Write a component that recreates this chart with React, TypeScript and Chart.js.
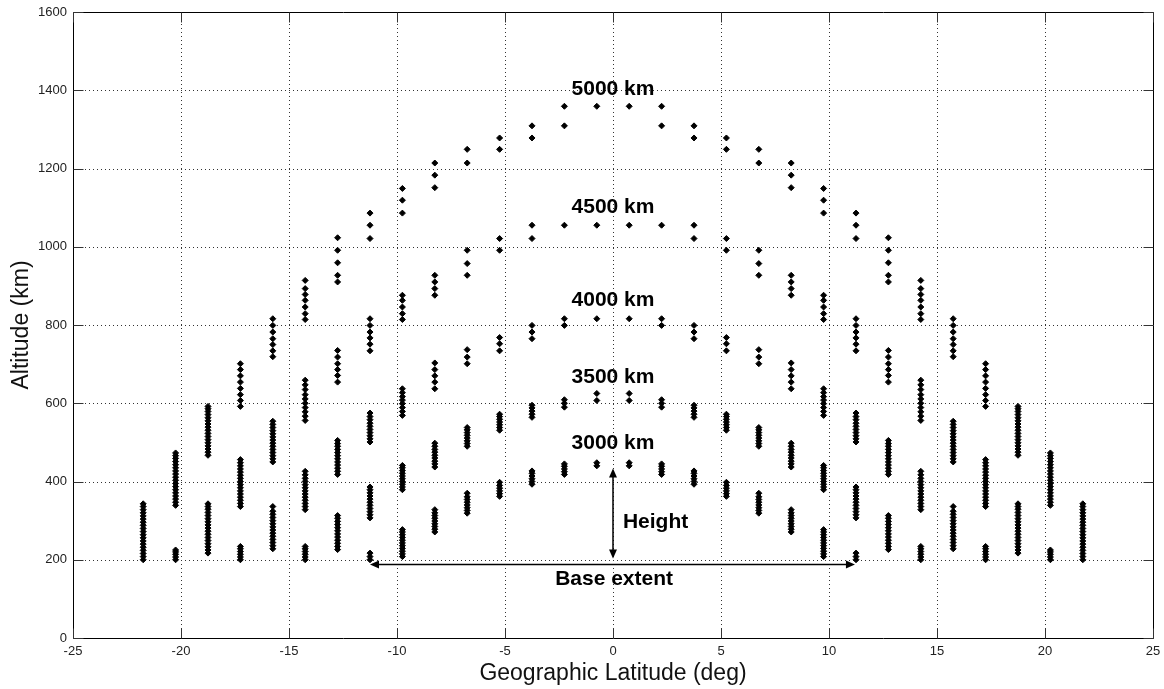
import React, { useEffect, useRef } from "react";
import { Chart, registerables } from "chart.js";

Chart.register(...registerables);

// ---- Axis ticks ----
const xTicks = [-25, -20, -15, -10, -5, 0, 5, 10, 15, 20, 25];
const yTicks = [0, 200, 400, 600, 800, 1000, 1200, 1400, 1600];

// ---- Column latitudes (deg), symmetric pairs ±offset ----
const columnOffsets = [0.75, 2.25, 3.75, 5.25, 6.75, 8.25, 9.75, 11.25, 12.75, 14.25, 15.75, 17.25, 18.75, 20.25, 21.75];

// ---- Altitudes (km) of the dots in each column pair ----
const alt0_75 = [440, 448, 607, 625, 816, 1055, 1359];
const alt2_25 = [418, 425, 432, 439, 445, 590, 600, 609, 799, 816, 1055, 1309, 1359];
const alt3_75 = [393, 400, 407, 414, 421, 427, 564, 572, 580, 588, 595, 765, 782, 799, 1021, 1055, 1278, 1309];
const alt5_25 = [362, 369, 376, 383, 390, 398, 531, 538, 545, 552, 559, 566, 572, 734, 752, 768, 991, 1021, 1249, 1278];
const alt6_75 = [319, 326, 333, 340, 347, 354, 361, 370, 490, 497, 504, 511, 518, 525, 532, 538, 701, 718, 737, 927, 957, 991, 1214, 1249];
const alt8_25 = [271, 278, 285, 292, 299, 306, 313, 320, 328, 437, 445, 452, 460, 467, 475, 482, 490, 498, 637, 654, 670, 686, 703, 876, 893, 910, 927, 1151, 1183, 1214];
const alt9_75 = [208, 215, 222, 229, 236, 243, 250, 257, 264, 271, 277, 379, 386, 393, 400, 407, 414, 421, 428, 435, 441, 569, 579, 589, 599, 608, 617, 627, 637, 814, 829, 846, 863, 876, 1086, 1119, 1149];
const alt11_25 = [200, 208, 217, 307, 315, 323, 331, 339, 347, 355, 363, 371, 379, 386, 501, 509, 517, 525, 533, 541, 549, 558, 566, 575, 734, 751, 767, 782, 799, 816, 1021, 1055, 1086];
const alt12_75 = [226, 234, 242, 250, 258, 266, 274, 282, 290, 298, 306, 313, 418, 426, 434, 442, 450, 458, 466, 474, 482, 490, 497, 505, 654, 671, 686, 701, 718, 735, 910, 927, 959, 991, 1023];
const alt14_25 = [200, 207, 214, 221, 228, 234, 328, 336, 344, 352, 360, 368, 376, 384, 392, 400, 408, 417, 426, 556, 567, 578, 589, 600, 611, 622, 635, 647, 659, 814, 829, 846, 863, 878, 893, 914];
const alt15_75 = [228, 236, 244, 252, 260, 268, 276, 284, 292, 300, 308, 316, 324, 336, 450, 458, 466, 474, 482, 490, 498, 506, 514, 522, 530, 538, 546, 554, 719, 734, 750, 765, 782, 799, 816];
const alt17_25 = [200, 207, 214, 221, 228, 234, 336, 344, 352, 360, 368, 376, 384, 392, 400, 408, 416, 424, 432, 440, 448, 456, 592, 607, 622, 638, 654, 670, 686, 701];
const alt18_75 = [217, 225, 233, 241, 249, 257, 265, 273, 281, 289, 297, 305, 313, 321, 329, 336, 343, 467, 475, 483, 491, 499, 507, 515, 523, 531, 539, 547, 555, 563, 571, 579, 586, 592];
const alt20_25 = [200, 207, 214, 220, 225, 339, 347, 355, 363, 371, 379, 387, 395, 403, 411, 419, 427, 435, 443, 451, 459, 466, 473];
const alt21_75 = [200, 208, 216, 224, 232, 240, 248, 256, 264, 272, 280, 288, 296, 304, 312, 320, 328, 336, 343];

const columnAltitudes = [
  alt0_75, alt2_25, alt3_75, alt5_25, alt6_75, alt8_25, alt9_75, alt11_25,
  alt12_75, alt14_25, alt15_75, alt17_25, alt18_75, alt20_25, alt21_75,
];

// ---- Annotations ----
const ringLabels = ["5000 km", "4500 km", "4000 km", "3500 km", "3000 km"];
const ringLabelLat = [0, 0, 0, 0, 0];
const ringLabelAlt = [1403, 1102, 863, 667, 497];
const heightLabel = "Height";
const heightLabelPos = [1.97, 296];
const baseLabel = "Base extent";
const baseLabelPos = [0.05, 150];
const heightArrowLat = 0;
const heightArrowAlt = [203, 433];
const baseArrowLat = [-11.25, 11.2];
const baseArrowAlt = 188;

const FONT = "'Liberation Sans', Arial, Helvetica, sans-serif";

function buildPoints() {
  const pts: { x: number; y: number }[] = [];
  columnOffsets.forEach((off, i) => {
    for (const a of columnAltitudes[i]) {
      pts.push({ x: -off, y: a });
      pts.push({ x: off, y: a });
    }
  });
  return pts;
}

function arrowHead(ctx: CanvasRenderingContext2D, tx: number, ty: number, dx: number, dy: number) {
  const len = 9;
  const half = 4;
  const bx = tx - dx * len;
  const by = ty - dy * len;
  const px = -dy;
  const py = dx;
  ctx.beginPath();
  ctx.moveTo(tx, ty);
  ctx.lineTo(bx + px * half, by + py * half);
  ctx.lineTo(bx - px * half, by - py * half);
  ctx.closePath();
  ctx.fill();
}

const framePlugin = {
  id: "matlabFrame",
  beforeDatasetsDraw(chart: any) {
    const { ctx, chartArea: ca, scales } = chart;
    const x = scales.x;
    const y = scales.y;
    ctx.save();
    ctx.strokeStyle = "#333";
    ctx.lineWidth = 1;
    ctx.setLineDash([1, 3]);
    for (const v of xTicks) {
      if (v === xTicks[0] || v === xTicks[xTicks.length - 1]) continue;
      const px = Math.round(x.getPixelForValue(v)) + 0.5;
      ctx.beginPath();
      ctx.moveTo(px, ca.top);
      ctx.lineTo(px, ca.bottom);
      ctx.stroke();
    }
    for (const v of yTicks) {
      if (v === yTicks[0] || v === yTicks[yTicks.length - 1]) continue;
      const py = Math.round(y.getPixelForValue(v)) + 0.5;
      ctx.beginPath();
      ctx.moveTo(ca.left, py);
      ctx.lineTo(ca.right, py);
      ctx.stroke();
    }
    ctx.restore();
  },
  afterDatasetsDraw(chart: any) {
    const { ctx, chartArea: ca, scales } = chart;
    const x = scales.x;
    const y = scales.y;
    ctx.save();
    ctx.setLineDash([]);
    ctx.strokeStyle = "#000";
    ctx.lineWidth = 1;
    const L = Math.round(ca.left) + 0.5;
    const R = Math.round(ca.right) + 0.5;
    const T = Math.round(ca.top) + 0.5;
    const B = Math.round(ca.bottom) + 0.5;
    ctx.beginPath();
    ctx.rect(L, T, R - L, B - T);
    ctx.stroke();
    ctx.strokeStyle = "#333";
    const tl = 10;
    for (const v of xTicks) {
      const px = Math.round(x.getPixelForValue(v)) + 0.5;
      ctx.beginPath();
      ctx.moveTo(px, B);
      ctx.lineTo(px, B - tl);
      ctx.moveTo(px, T);
      ctx.lineTo(px, T + tl);
      ctx.stroke();
    }
    for (const v of yTicks) {
      const py = Math.round(y.getPixelForValue(v)) + 0.5;
      ctx.beginPath();
      ctx.moveTo(L, py);
      ctx.lineTo(L + tl, py);
      ctx.moveTo(R, py);
      ctx.lineTo(R - tl, py);
      ctx.stroke();
    }
    ctx.strokeStyle = "#000";
    ctx.fillStyle = "#000";
    ctx.lineWidth = 1.5;
    const hx = x.getPixelForValue(heightArrowLat);
    const hy1 = y.getPixelForValue(heightArrowAlt[0]);
    const hy2 = y.getPixelForValue(heightArrowAlt[1]);
    ctx.beginPath();
    ctx.moveTo(hx, hy1 - 6);
    ctx.lineTo(hx, hy2 + 6);
    ctx.stroke();
    arrowHead(ctx, hx, hy1, 0, 1);
    arrowHead(ctx, hx, hy2, 0, -1);
    const bx1 = x.getPixelForValue(baseArrowLat[0]);
    const bx2 = x.getPixelForValue(baseArrowLat[1]);
    const by = y.getPixelForValue(baseArrowAlt);
    ctx.beginPath();
    ctx.moveTo(bx1 + 6, by);
    ctx.lineTo(bx2 - 6, by);
    ctx.stroke();
    arrowHead(ctx, bx1, by, -1, 0);
    arrowHead(ctx, bx2, by, 1, 0);
    ctx.font = `bold 21px ${FONT}`;
    ctx.textAlign = "center";
    ctx.textBaseline = "middle";
    ctx.fillStyle = "#000";
    ringLabels.forEach((t, i) => {
      ctx.fillText(t, x.getPixelForValue(ringLabelLat[i]), y.getPixelForValue(ringLabelAlt[i]));
    });
    ctx.fillText(heightLabel, x.getPixelForValue(heightLabelPos[0]), y.getPixelForValue(heightLabelPos[1]));
    ctx.fillText(baseLabel, x.getPixelForValue(baseLabelPos[0]), y.getPixelForValue(baseLabelPos[1]));
    ctx.restore();
  },
};

export default function App() {
  const canvasRef = useRef<HTMLCanvasElement | null>(null);

  useEffect(() => {
    if (!canvasRef.current) return;
    const chart = new Chart(canvasRef.current, {
      type: "scatter",
      data: {
        datasets: [
          {
            label: "points",
            data: buildPoints(),
            pointStyle: "rectRot",
            pointRadius: 3,
            pointBorderWidth: 1,
            backgroundColor: "#000",
            borderColor: "#000",
            showLine: false,
          },
        ],
      },
      options: {
        animation: false,
        responsive: true,
        maintainAspectRatio: false,
        layout: { padding: { top: 12, right: 11, left: 0, bottom: 0 } },
        plugins: {
          legend: { display: false },
          tooltip: { enabled: false },
        },
        scales: {
          x: {
            type: "linear",
            min: -25,
            max: 25,
            grid: { display: false, drawTicks: false, tickLength: 0 },
            border: { display: false },
            ticks: {
              stepSize: 5,
              padding: 6,
              color: "#222",
              font: { family: FONT, size: 13 },
              maxRotation: 0,
              callback: (v: any) => String(v),
            },
            title: {
              display: true,
              text: "Geographic Latitude (deg)",
              color: "#111",
              font: { family: FONT, size: 23, lineHeight: 1 },
              padding: { top: 0, bottom: 4 },
            },
            afterFit: (s: any) => {
              s.height = 51;
              s.paddingLeft = 0;
              s.paddingRight = 0;
            },
          },
          y: {
            type: "linear",
            min: 0,
            max: 1600,
            grid: { display: false, drawTicks: false, tickLength: 0 },
            border: { display: false },
            ticks: {
              stepSize: 200,
              padding: 6,
              color: "#222",
              font: { family: FONT, size: 13 },
              callback: (v: any) => String(v),
            },
            title: {
              display: true,
              text: "Altitude (km)",
              color: "#111",
              font: { family: FONT, size: 23, lineHeight: 1 },
              padding: { top: 10, bottom: 0 },
            },
            afterFit: (s: any) => {
              s.width = 73;
              s.paddingTop = 0;
              s.paddingBottom = 0;
            },
          },
        },
      },
      plugins: [framePlugin],
    });
    return () => chart.destroy();
  }, []);

  return (
    <div style={{ position: "absolute", left: 0, top: 0, width: 1164, height: 689, background: "#fff" }}>
      <canvas ref={canvasRef} />
    </div>
  );
}
